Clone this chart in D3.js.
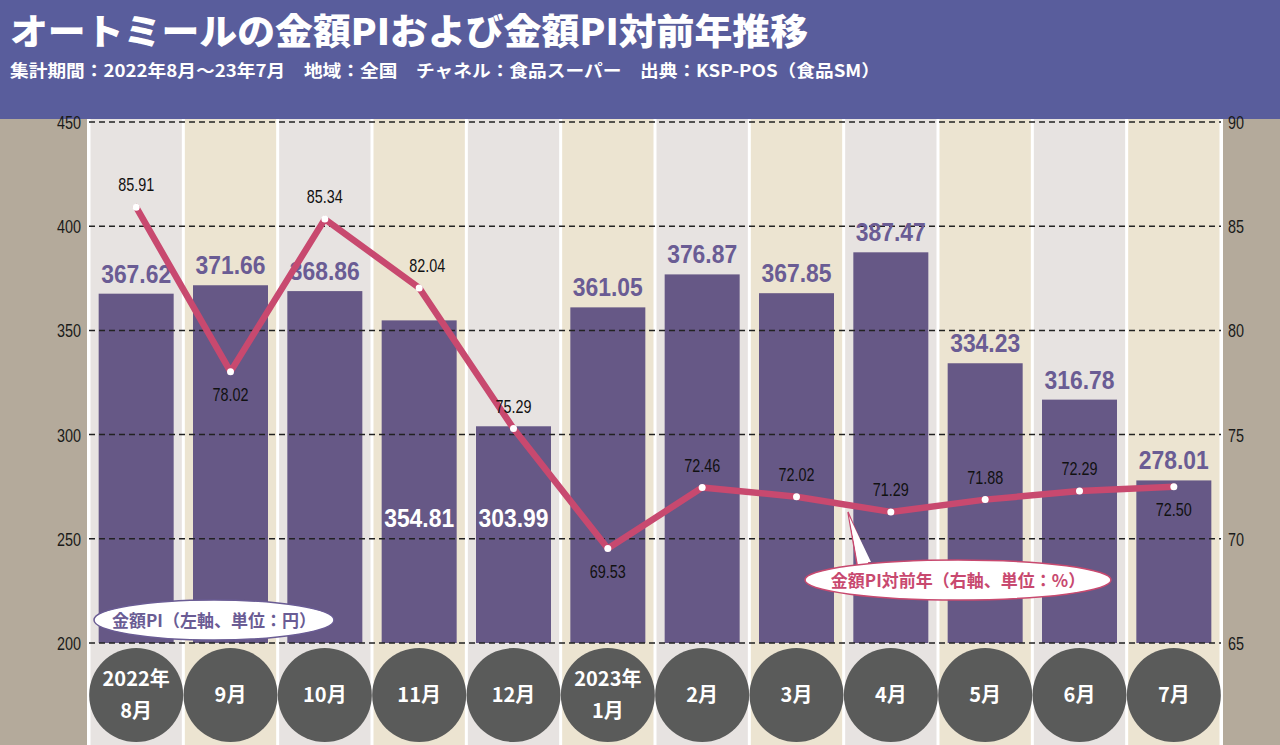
<!DOCTYPE html>
<html><head><meta charset="utf-8">
<script src="https://cdn.jsdelivr.net/npm/d3@7"></script>
<style>body{margin:0;background:#fff}svg{display:block}</style>
</head><body>
<svg id="c" width="1280" height="745"></svg>
<script>
const categories = ["2022年|8月","9月","10月","11月","12月","2023年|1月","2月","3月","4月","5月","6月","7月"];
const piValues = [367.62,371.66,368.86,354.81,303.99,361.05,376.87,367.85,387.47,334.23,316.78,278.01];
const yoyValues = [85.91,78.02,85.34,82.04,75.29,69.53,72.46,72.02,71.29,71.88,72.29,72.50];
const leftTicks = [200,250,300,350,400,450];
const rightTicks = [65,70,75,80,85,90];
const yoyLabelPos = ["above","below","above","above","above","below","above","above","above","above","above","below"];
const piLabelInside = [false,false,false,true,true,false,false,false,false,false,false,false];

const svg = d3.select("#c");
const W=1280,H=745;
const pTop=122,pBottom=643,pLeft=89,pRight=1221;
const NUM = "'Liberation Sans','Arimo',sans-serif";
const JP = "'Noto Sans CJK JP',sans-serif";

// backgrounds
svg.append("rect").attr("x",0).attr("y",0).attr("width",W).attr("height",H).attr("fill","#ffffff");
svg.append("rect").attr("x",0).attr("y",118).attr("width",87).attr("height",H-118).attr("fill","#b4aa9b");
svg.append("rect").attr("x",1223).attr("y",118).attr("width",W-1223).attr("height",H-118).attr("fill","#b4aa9b");
svg.append("rect").attr("x",0).attr("y",0).attr("width",W).attr("height",119).attr("fill","#595d9c");

const x = d3.scaleBand().domain(categories).range([pLeft,pRight]);
const yL = d3.scaleLinear().domain([200,450]).range([pBottom,pTop]);
const yR = d3.scaleLinear().domain([65,90]).range([pBottom,pTop]);

// column backgrounds
svg.append("g").selectAll("rect").data(categories).join("rect")
  .attr("x",d=>x(d)+1.5).attr("y",119).attr("width",x.bandwidth()-3).attr("height",H-119)
  .attr("fill",(d,i)=>i%2===0?"#e7e3e1":"#ece4d1");

// bars
const bw=75;
svg.append("g").selectAll("rect").data(piValues).join("rect")
  .attr("x",(d,i)=>x(categories[i])+(x.bandwidth()-bw)/2)
  .attr("y",d=>yL(d)).attr("width",bw).attr("height",d=>yL(200)-yL(d))
  .attr("fill","#665886");

// grid lines
svg.append("g").selectAll("line").data(leftTicks).join("line")
  .attr("x1",pLeft).attr("x2",pRight).attr("y1",d=>yL(d)).attr("y2",d=>yL(d))
  .attr("stroke","#222").attr("stroke-width",1.5).attr("stroke-dasharray","6,4");

// bar labels
svg.append("g").selectAll("text").data(piValues).join("text")
  .attr("x",(d,i)=>x(categories[i])+x.bandwidth()/2-35)
  .attr("y",(d,i)=>piLabelInside[i]?yL(200)-116:yL(d)-11)
  .attr("font-family",NUM).attr("font-weight","bold")
  .attr("font-size",25).attr("fill",(d,i)=>piLabelInside[i]?"#ffffff":"#6a5c94")
  .attr("textLength",70).attr("lengthAdjust","spacingAndGlyphs")
  .text(d=>d.toFixed(2));

// axis labels
svg.append("g").selectAll("text").data(leftTicks).join("text")
  .attr("x",57).attr("y",d=>yL(d)+7)
  .attr("font-family",NUM).attr("font-size",19).attr("fill","#1a1a1a")
  .attr("textLength",24).attr("lengthAdjust","spacingAndGlyphs").text(d=>d);
svg.append("g").selectAll("text").data(rightTicks).join("text")
  .attr("x",1228).attr("y",d=>yR(d)+7)
  .attr("font-family",NUM).attr("font-size",19).attr("fill","#1a1a1a")
  .attr("textLength",16).attr("lengthAdjust","spacingAndGlyphs").text(d=>d);

// line
const cx=(i)=>x(categories[i])+x.bandwidth()/2;
const line=d3.line().x((d,i)=>cx(i)).y(d=>yR(d));
svg.append("path").datum(yoyValues).attr("d",line).attr("fill","none")
  .attr("stroke","#c8496f").attr("stroke-width",6.5).attr("stroke-linejoin","round").attr("stroke-linecap","round");
svg.append("g").selectAll("circle").data(yoyValues).join("circle")
  .attr("cx",(d,i)=>cx(i)).attr("cy",d=>yR(d)).attr("r",3.5).attr("fill","#fff");
svg.append("g").selectAll("text").data(yoyValues).join("text")
  .attr("x",(d,i)=>cx(i)+(i===3?8:0)-18).attr("y",(d,i)=>yoyLabelPos[i]==="above"?yR(d)-16:yR(d)+29)
  .attr("font-family",NUM).attr("font-size",19).attr("fill","#111")
  .attr("textLength",36).attr("lengthAdjust","spacingAndGlyphs")
  .text(d=>d.toFixed(2));

// bottom circles
const cg=svg.append("g");
categories.forEach((c,i)=>{
  const g=cg.append("g").attr("transform",`translate(${cx(i)},695)`);
  g.append("circle").attr("r",47).attr("fill","#5a5b5a");
  const parts=c.split("|");
  if(parts.length===2){
    g.append("text").attr("y",-9).attr("text-anchor","middle").attr("font-family",JP).attr("font-weight","bold")
      .attr("font-size",20).attr("fill","#fff").text(parts[0]);
    g.append("text").attr("y",23).attr("text-anchor","middle").attr("font-family",JP).attr("font-weight","bold")
      .attr("font-size",20).attr("fill","#fff").text(parts[1]);
  } else {
    g.append("text").attr("y",7).attr("text-anchor","middle").attr("font-family",JP).attr("font-weight","bold")
      .attr("font-size",20).attr("fill","#fff").text(parts[0]);
  }
});

// legend callouts
svg.append("ellipse").attr("cx",214).attr("cy",620).attr("rx",120).attr("ry",20)
  .attr("fill","#fff").attr("stroke","#6a5c94").attr("stroke-width",1.5);
svg.append("text").attr("x",214).attr("y",627).attr("text-anchor","middle").attr("font-family",JP)
  .attr("font-weight","bold").attr("font-size",17).attr("fill","#6a5c94").text("金額PI（左軸、単位：円）");

svg.append("path").attr("d","M848,512 L872,570 L858,570 Z").attr("fill","#fff").attr("stroke","#c8496f").attr("stroke-width",1.5);
svg.append("ellipse").attr("cx",958).attr("cy",580).attr("rx",153).attr("ry",20)
  .attr("fill","#fff").attr("stroke","#c8496f").attr("stroke-width",1.5);
svg.append("path").attr("d","M849,516 L871,562 L858,562 Z").attr("fill","#fff");
svg.append("text").attr("x",958).attr("y",587).attr("text-anchor","middle").attr("font-family",JP)
  .attr("font-weight","bold").attr("font-size",17).attr("fill","#c8496f").text("金額PI対前年（右軸、単位：%）");

// header text
svg.append("text").attr("x",10).attr("y",45).attr("font-family",JP).attr("font-weight","900")
  .attr("font-size",36).attr("fill","#fff").attr("textLength",798).attr("lengthAdjust","spacingAndGlyphs")
  .text("オートミールの金額PIおよび金額PI対前年推移");
svg.append("text").attr("x",10).attr("y",77).attr("font-family",JP).attr("font-weight","bold")
  .attr("font-size",17).attr("fill","#fff").attr("textLength",870).attr("lengthAdjust","spacingAndGlyphs")
  .text("集計期間：2022年8月〜23年7月　地域：全国　チャネル：食品スーパー　出典：KSP-POS（食品SM）");
</script>
</body></html>
